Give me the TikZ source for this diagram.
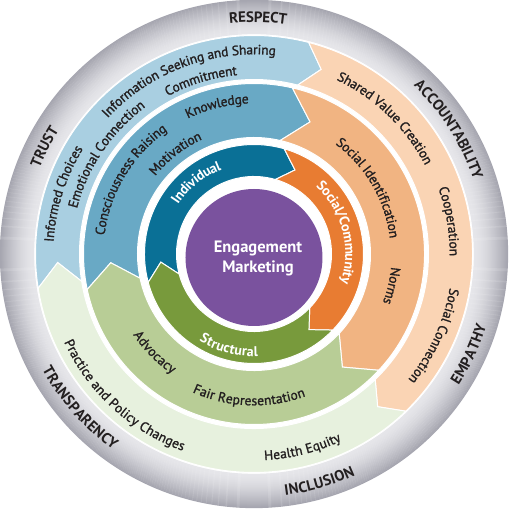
\documentclass[tikz,border=0pt]{standalone}
\usepackage{fontspec}
\setmainfont{PT Sans}
\newfontfamily\semibf[FakeBold=1.3]{PT Sans}
\usetikzlibrary{decorations.text}
\definecolor{txt}{HTML}{231F20}
\definecolor{purp}{HTML}{7A529E}
\definecolor{dblue}{HTML}{0A7096}
\definecolor{mblue}{HTML}{69A9C5}
\definecolor{lblue}{HTML}{A9CFE1}
\definecolor{dorange}{HTML}{E87C32}
\definecolor{morange}{HTML}{F1B482}
\definecolor{lorange}{HTML}{FAD4B4}
\definecolor{dgreen}{HTML}{789A3C}
\definecolor{mgreen}{HTML}{B8CD96}
\definecolor{lgreen}{HTML}{E7F1DE}
\definecolor{greyin}{HTML}{E6E6EA}
\definecolor{greyout}{HTML}{A6A6B0}
\newcommand{\ringf}{\color{txt}\fontsize{15}{17}\selectfont\bfseries}
\newcommand{\bandf}{\color{txt}\fontsize{13.5}{15}\semibf}
\newcommand{\innerf}{\color{white}\fontsize{14}{16}\selectfont\bfseries}
% clockwise label: centre angle, radius, raise, text
\newcommand{\cwlabel}[4]{%
  \pgfmathsetmacro{\myA}{#1+80}\pgfmathsetmacro{\myB}{#1-80}%
  \path[decorate,decoration={text along path,text align=center,raise=#3,text={#4}}]
    (\myA:#2) arc[start angle=\myA,end angle=\myB,radius=#2];}
% counter-clockwise label
\newcommand{\ccwlabel}[4]{%
  \pgfmathsetmacro{\myA}{#1-80}\pgfmathsetmacro{\myB}{#1+80}%
  \path[decorate,decoration={text along path,text align=center,raise=#3,text={#4}}]
    (\myA:#2) arc[start angle=\myA,end angle=\myB,radius=#2];}
% chevron segment: colour, r1, r2, tail angle, notch angle, head angle, tip angle
\newcommand{\chevseg}[7]{%
  \pgfmathsetmacro{\rmid}{(#2+#3)/2}%
  \filldraw[fill=#1,draw=white,line width=1pt,line join=miter]
    (#4:#3) arc[start angle=#4,end angle=#6,radius=#3] -- (#7:\rmid) -- (#6:#2)
    arc[start angle=#6,end angle=#4,radius=#2] -- (#5:\rmid) -- cycle;}
\begin{document}
\begin{tikzpicture}[x=1pt,y=1pt]
\useasboundingbox[fill=white] (-254,-257) rectangle (258,254);
% grey outer ring
\foreach \i in {0,...,33} {
  \pgfmathtruncatemacro{\pc}{100*(\i/33)^1.5}
  \draw[line width=1.3pt,draw=greyout!\pc!greyin] (0,0) circle ({220.5+\i});
}
% outer band
\chevseg{lblue}{174.5}{218.5}{189}{182.5}{75.5}{70}
\chevseg{lorange}{174.5}{218.5}{75.5}{70}{-46}{-51}
\chevseg{lgreen}{174.5}{218.5}{-46}{-51}{-171}{-177.5}
% middle band
\chevseg{mblue}{116.5}{170.5}{192}{183.5}{77}{67}
\chevseg{morange}{116.5}{170.5}{77}{67}{-43}{-52}
\chevseg{mgreen}{116.5}{170.5}{-43}{-52}{-168}{-176.5}
% inner band
\chevseg{dblue}{77.5}{109.5}{195}{185}{74}{64}
\chevseg{dorange}{77.5}{109.5}{74}{64}{-44}{-54}
\chevseg{dgreen}{77.5}{109.5}{-44}{-54}{-165}{-175}
% centre
\fill[purp] (0,-3.5) circle (68.5);
\node[font=\fontsize{16.5}{20}\selectfont\bfseries,text=white,align=center] (eng) at (4,-4) {Engagement\\Marketing};
% outer ring values
\cwlabel{89}{237}{-5.3pt}{|\ringf|RESPECT}
\cwlabel{32.5}{237}{-5.3pt}{|\ringf|ACCOUNTABILITY}
\ccwlabel{-25}{238}{-5.3pt}{|\ringf|EMPATHY}
\ccwlabel{-74}{238}{-5.3pt}{|\ringf|INCLUSION}
\ccwlabel{221.5}{236}{-5.3pt}{|\ringf|TRANSPARENCY}
\cwlabel{153}{236}{-5.3pt}{|\ringf|TRUST}
% outer band texts
\cwlabel{110.5}{204}{-4.3pt}{|\bandf|Information Seeking and Sharing}
\cwlabel{107}{184}{-4.3pt}{|\bandf|Commitment}
\cwlabel{146}{187}{-4.3pt}{|\bandf|Emotional Connection}
\cwlabel{162.5}{205}{-4.3pt}{|\bandf|Informed Choices}
\cwlabel{46}{197}{-4.3pt}{|\bandf|Shared Value Creation}
\cwlabel{9.5}{200}{-4.3pt}{|\bandf|Cooperation}
\cwlabel{-24.5}{203}{-4.3pt}{|\bandf|Social Connection}
\ccwlabel{-76}{202}{-4.3pt}{|\bandf|Health Equity}
\ccwlabel{227.5}{205}{-4.3pt}{|\bandf|Practice and Policy Changes}
% middle band texts
\cwlabel{104}{155}{-4.3pt}{|\bandf|Knowledge}
\cwlabel{149}{155}{-4.3pt}{|\bandf|Consciousness Raising}
\cwlabel{128}{130}{-4.3pt}{|\bandf|Motivation}
\cwlabel{30}{141}{-4.3pt}{|\bandf|Social Identification}
\cwlabel{-13}{142}{-4.3pt}{|\bandf|Norms}
\ccwlabel{224.7}{141}{-4.3pt}{|\bandf|Advocacy}
\ccwlabel{268}{147}{-4.3pt}{|\bandf|Fair Representation}
% inner band texts
\cwlabel{129}{95}{-4.7pt}{|\innerf|Individual}
\cwlabel{14.5}{96}{-4.7pt}{|\innerf|Social/Community}
\ccwlabel{255}{98}{-4.7pt}{|\innerf|Structural}
\end{tikzpicture}
\end{document}
